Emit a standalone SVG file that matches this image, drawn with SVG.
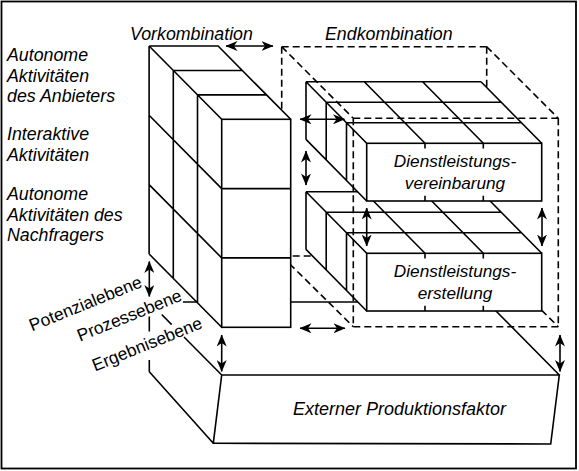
<svg xmlns="http://www.w3.org/2000/svg" width="579" height="471" viewBox="0 0 579 471">
<style>
.ln{fill:none;stroke:#000;stroke-width:1.6;stroke-linecap:butt}
.fl{fill:#fff;stroke:none}
.ds{fill:none;stroke:#000;stroke-width:1.6;stroke-dasharray:7,4}
.ar{fill:none;stroke:#000;stroke-width:1.6;marker-start:url(#ah);marker-end:url(#ah)}
.t{font-family:"Liberation Sans",Arial,Helvetica,sans-serif;font-size:17.8px;font-style:italic;fill:#000}
.tr{font-family:"Liberation Sans",Arial,Helvetica,sans-serif;font-size:17.4px;fill:#000}
</style>
<defs>
<marker id="ah" viewBox="0 0 12 10" markerUnits="userSpaceOnUse" markerWidth="12" markerHeight="10" refX="11.5" refY="5" orient="auto-start-reverse">
<path d="M0,0 L12,5 L0,10 L3.5,5 Z" fill="#000"/>
</marker>
</defs>
<rect x="1.5" y="1.5" width="574.5" height="467" fill="#fff" stroke="#000" stroke-width="1.8"/>

<g id="externer-produktionsfaktor">
<path class="ln" d="M183,302 H487 L559.3,375 M221.7,375 H559.3 L550.7,444 L213.3,443.3 Z M149.3,371.7 L213.3,443.3 M149.3,316.5 V331.5 M149.3,360 V371.7 M161.7,314.5 L171.7,324.6 M184,337 L221.7,375"/>
<text class="t" x="293" y="415" style="font-size:18px">Externer Produktionsfaktor</text>
</g>

<g id="endkombination-back">
<path class="ds" d="M281.7,46.7 V256 M486.7,46.7 V256 M281.7,256 H486.7 M281.7,256 L353.3,326.7 M486.7,256 L558.3,326.7"/>
</g>

<g id="dienstleistungserstellung" transform="translate(0,110)">
<polygon class="fl" points="306,81.7 481,81.7 541.7,143.3 541.7,201 366.7,201 306,139.4"/>
<path class="ln" d="M306,81.7 H481 M326.2,102.2 H501.2 M346.5,122.8 H521.5 M306,81.7 L366.7,143.3 M364.3,81.7 L425,143.3 M422.6,81.7 L483.3,143.3 M481,81.7 L541.7,143.3 M306,81.7 V139.4 M326.2,102.2 V159.9 M346.5,122.8 V180.5 M306,139.4 L366.7,201 M425,143.3 V148.5 M483.3,143.3 V148.5 M425,195.8 V201 M483.3,195.8 V201"/>
<rect class="ln" x="366.7" y="143.3" width="175" height="57.7"/>
<text class="t" x="455" y="166.5" text-anchor="middle" style="font-size:17.2px">Dienstleistungs-</text>
<text class="t" x="455" y="188.5" text-anchor="middle" style="font-size:17.2px">erstellung</text>
</g>

<g id="dienstleistungsvereinbarung">
<polygon class="fl" points="306,81.7 481,81.7 541.7,143.3 541.7,201 366.7,201 306,139.4"/>
<path class="ln" d="M306,81.7 H481 M326.2,102.2 H501.2 M346.5,122.8 H521.5 M306,81.7 L366.7,143.3 M364.3,81.7 L425,143.3 M422.6,81.7 L483.3,143.3 M481,81.7 L541.7,143.3 M306,81.7 V139.4 M326.2,102.2 V159.9 M346.5,122.8 V180.5 M306,139.4 L366.7,201 M425,143.3 V148.5 M483.3,143.3 V148.5 M425,195.8 V201 M483.3,195.8 V201"/>
<rect class="ln" x="366.7" y="143.3" width="175" height="57.7"/>
<text class="t" x="455" y="166.5" text-anchor="middle" style="font-size:17.2px">Dienstleistungs-</text>
<text class="t" x="455" y="188.5" text-anchor="middle" style="font-size:17.2px">vereinbarung</text>
</g>

<g id="endkombination">
<path class="ds" d="M281.7,46.7 H486.7 M281.7,46.7 L353.3,118.3 M486.7,46.7 L558.3,118.3 M353.3,118.3 H558.3 M353.3,118.3 V326.7 M558.3,118.3 V326.7 M353.3,326.7 H558.3"/>
<text class="t" x="325" y="40">Endkombination</text>
</g>

<g id="vorkombination">
<polygon class="fl" points="149.1,46 218.1,46 290.7,119.3 290.7,327.3 221.7,327.3 149.1,254"/>
<path class="ln" d="M149.1,46 H218.1 L290.7,119.3 M173.3,70.45 H242.3 M197.5,94.9 H266.5 M149.1,46 L221.7,119.3 M149.1,46 V254 M173.3,70.45 V278.4 M197.5,94.9 V302.9 M149.1,115.3 L221.7,188.6 M149.1,184.6 L221.7,257.9 M149.1,254 L221.7,327.3 M221.7,188.6 H290.7 M221.7,257.9 H290.7"/>
<rect class="ln" x="221.7" y="119.3" width="69" height="208"/>
<text class="t" x="130" y="40">Vorkombination</text>
</g>

<g id="ebenen-labels">
<text class="t" x="7" y="61">Autonome</text>
<text class="t" x="7" y="81.5">Aktivitäten</text>
<text class="t" x="7" y="102">des Anbieters</text>
<text class="t" x="7" y="140">Interaktive</text>
<text class="t" x="7" y="161">Aktivitäten</text>
<text class="t" x="7" y="199.5">Autonome</text>
<text class="t" x="7" y="220.5">Aktivitäten des</text>
<text class="t" x="7" y="241">Nachfragers</text>
<text class="tr" transform="translate(32,331.5) rotate(-22)">Potenzialebene</text>
<text class="tr" transform="translate(80,341.7) rotate(-22)">Prozessebene</text>
<text class="tr" transform="translate(95,371.5) rotate(-22)">Ergebnisebene</text>
</g>

<g id="connectors">
<line class="ar" x1="226" y1="46" x2="273" y2="46"/>
<line class="ar" x1="300" y1="119.3" x2="344.5" y2="119.3"/>
<line class="ar" x1="306" y1="151" x2="306" y2="185"/>
<line class="ar" x1="366.7" y1="208" x2="366.7" y2="246"/>
<line class="ar" x1="542" y1="208" x2="542" y2="246"/>
<line class="ar" x1="149.3" y1="261.5" x2="149.3" y2="296.5"/>
<line class="ar" x1="300" y1="328.3" x2="345" y2="328.3"/>
<line class="ar" x1="221.7" y1="335" x2="221.7" y2="371.5"/>
<line class="ar" x1="560" y1="335" x2="560" y2="371.5"/>
</g>
</svg>
